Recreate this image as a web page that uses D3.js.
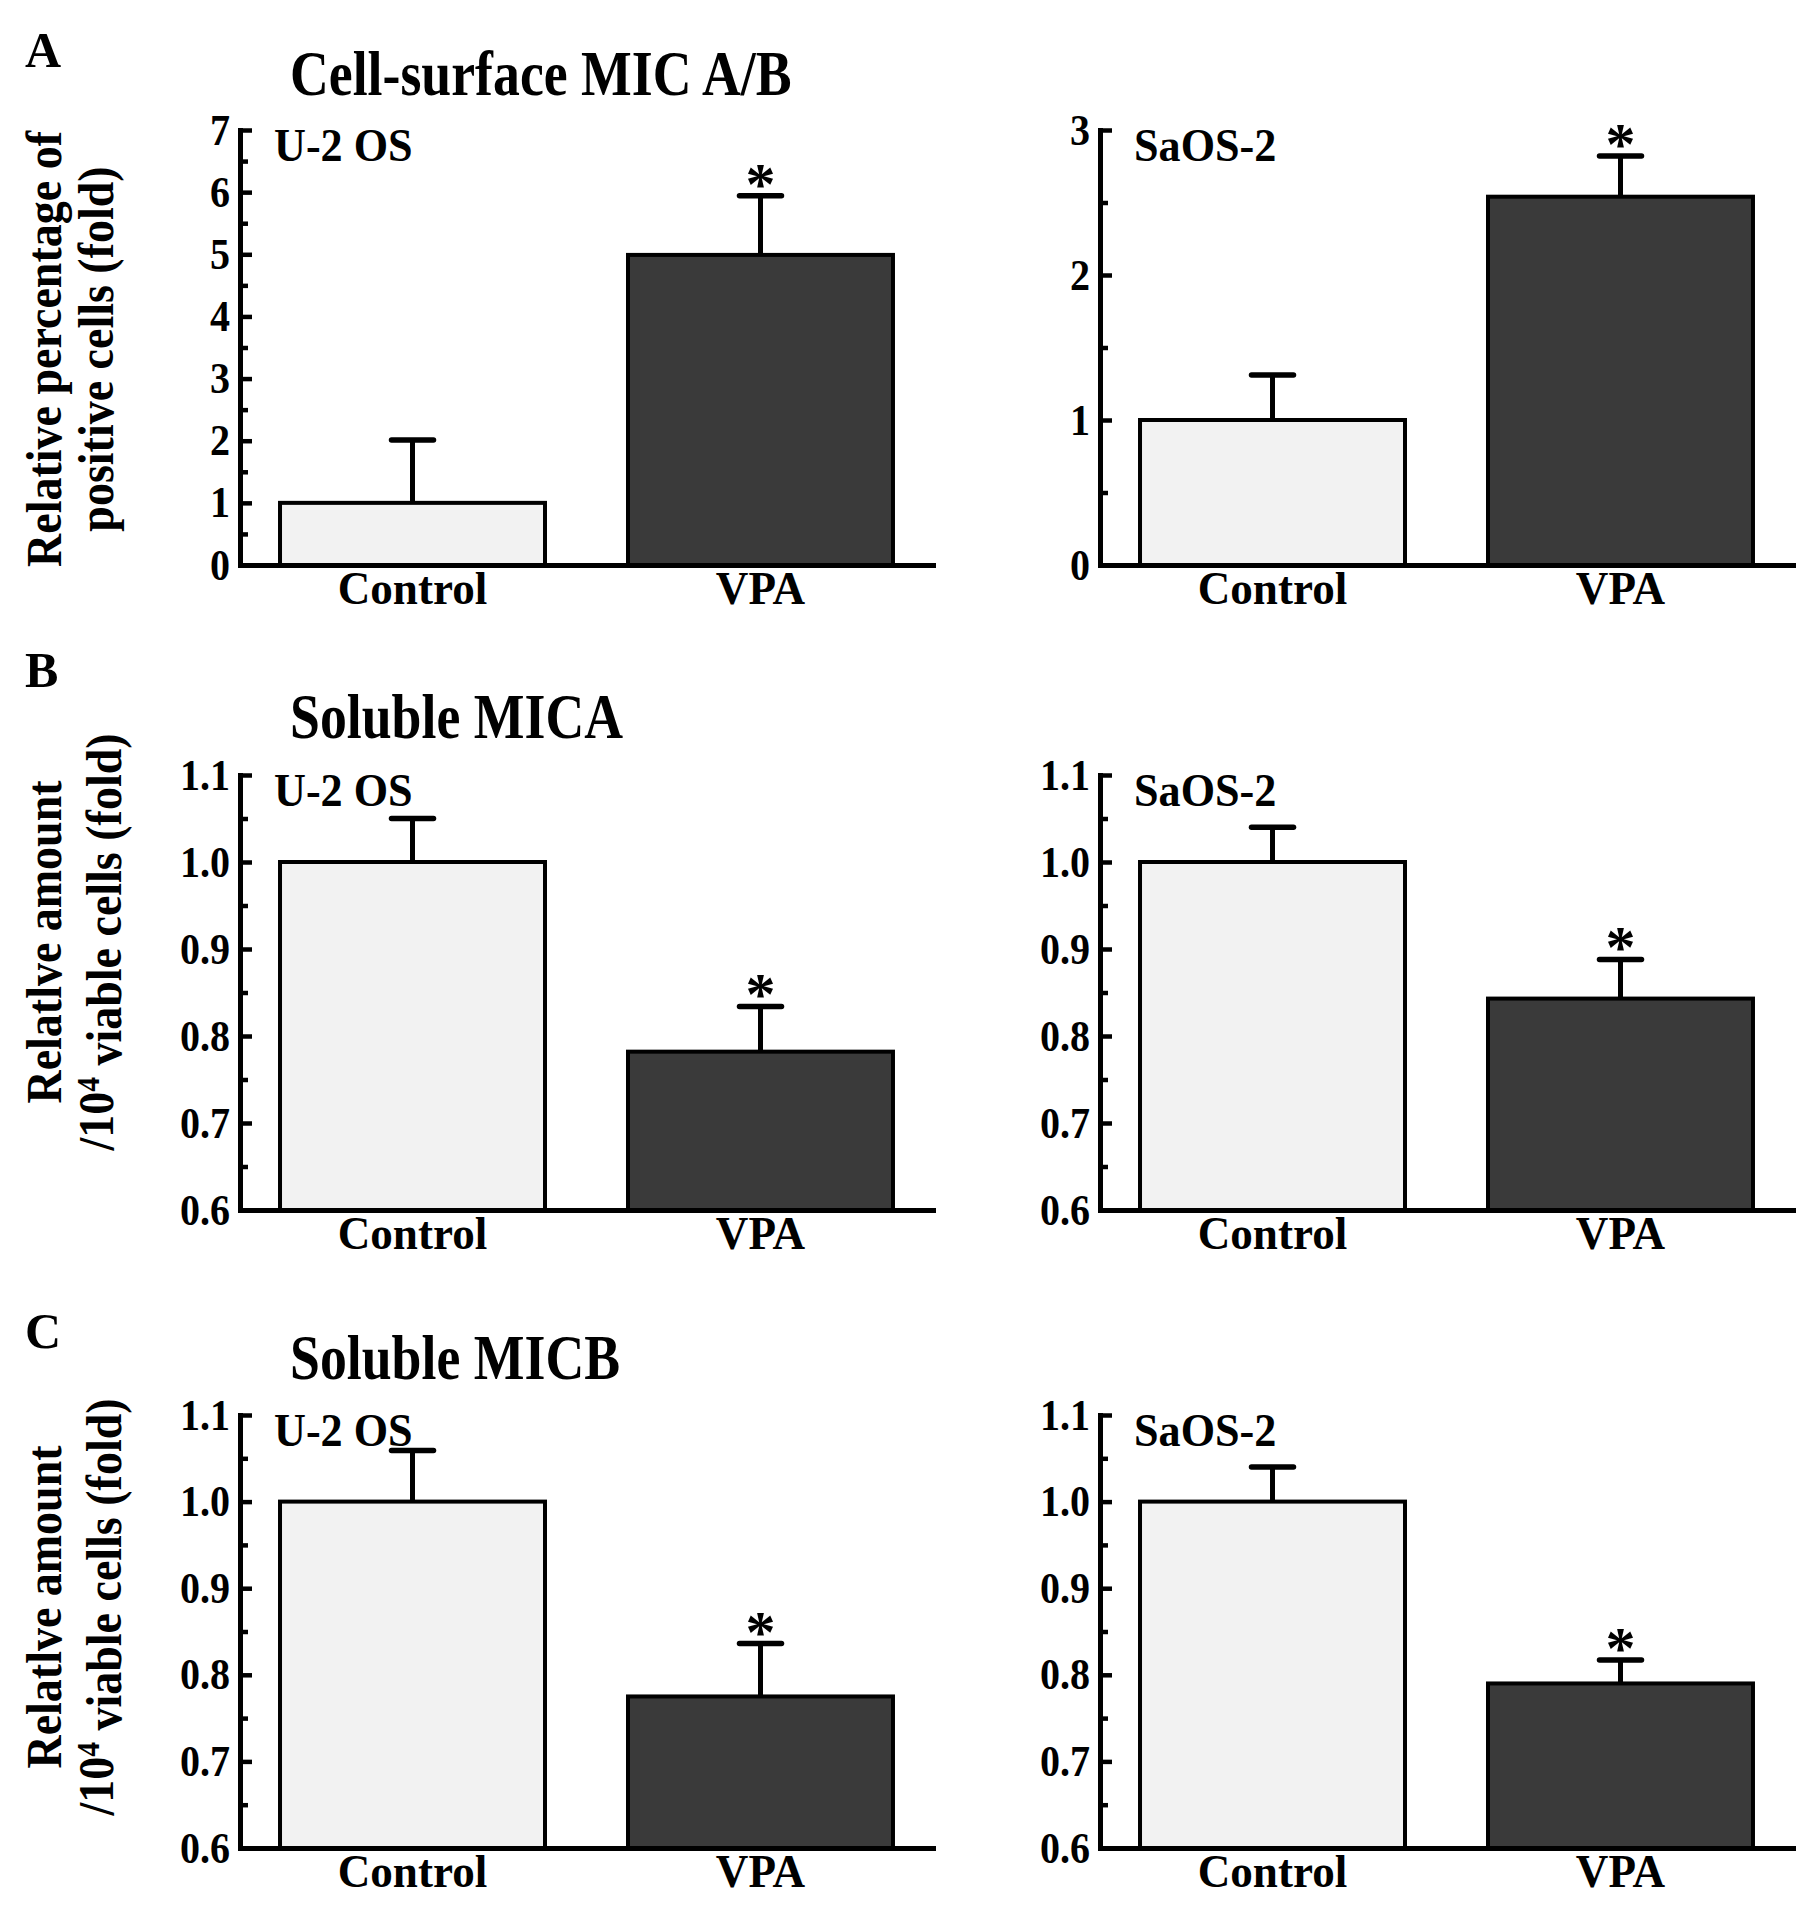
<!DOCTYPE html>
<html>
<head>
<meta charset="utf-8">
<script src="https://cdnjs.cloudflare.com/ajax/libs/d3/7.8.5/d3.min.js"></script>
<style>
body { margin: 0; background: #fff; }
text { font-family: "Liberation Serif", "Times New Roman", serif; font-weight: bold; fill: #000; }
</style>
</head>
<body>
<div id="chart"></div>
<script>
// figure with three rows of bar charts (surface MIC A/B, soluble MICA, soluble MICB)

var groups = ["Control", "VPA"];
var panelLetters = ["A", "B", "C"];
var panelTitles = ["Cell-surface MIC A/B", "Soluble MICA", "Soluble MICB"];
var cellLines = ["U-2 OS", "SaOS-2"];
var significant = [false, true];

// means and upper error per group
var surfU2os = [1.00, 4.99], surfU2osErr = [1.01, 0.95];
var surfSaos = [1.00, 2.54], surfSaosErr = [0.31, 0.28];
var micaU2os = [1.00, 0.782], micaU2osErr = [0.050, 0.052];
var micaSaos = [1.00, 0.843], micaSaosErr = [0.040, 0.045];
var micbU2os = [1.00, 0.775], micbU2osErr = [0.059, 0.061];
var micbSaos = [1.00, 0.790], micbSaosErr = [0.040, 0.027];

var ticksSurfU2os = [0, 1, 2, 3, 4, 5, 6, 7];
var ticksSurfSaos = [0, 1, 2, 3];
var ticksSoluble = [0.6, 0.7, 0.8, 0.9, 1.0, 1.1];

var yLabelLine1 = ["Relative percentage of", "Relatlve amount", "Relatlve amount"];
var yLabelLine2 = [["positive cells (fold)"], ["/10", "4", " viable cells (fold)"], ["/10", "4", " viable cells (fold)"]];

// layout
var width = 1819, height = 1925;
var colLeft = [240, 1100];
var rowTop = [130, 775, 1415],
    rowBottom = [565, 1210, 1848];
var plotW = 693;
var titleY = [95, 738, 1379],
    letterY = [67, 687, 1348],
    yLabelMid = [349, 942, 1607];

var fillColor = { "Control": "#f2f2f2", "VPA": "#3a3a3a" };

var svg = d3.select("#chart")
    .append("svg")
    .attr("width", width)
    .attr("height", height)
    .style("background", "#fff");

// the figure uses a narrow bold Times, so squeeze glyphs horizontally
function condensed(sel, x, y, sx, extra) {
    sel.attr("x", null).attr("y", null)
        .attr("transform", "translate(" + x + "," + y + ")" + (extra || "") + " scale(" + sx + ",1)");
    return sel;
}

var panels = [
    { row: 0, col: 0, means: surfU2os, errs: surfU2osErr, ticks: ticksSurfU2os, fmt: d3.format("d") },
    { row: 0, col: 1, means: surfSaos, errs: surfSaosErr, ticks: ticksSurfSaos, fmt: d3.format("d") },
    { row: 1, col: 0, means: micaU2os, errs: micaU2osErr, ticks: ticksSoluble, fmt: d3.format(".1f") },
    { row: 1, col: 1, means: micaSaos, errs: micaSaosErr, ticks: ticksSoluble, fmt: d3.format(".1f") },
    { row: 2, col: 0, means: micbU2os, errs: micbU2osErr, ticks: ticksSoluble, fmt: d3.format(".1f") },
    { row: 2, col: 1, means: micbSaos, errs: micbSaosErr, ticks: ticksSoluble, fmt: d3.format(".1f") }
];

function drawPanel(p) {
    var g = svg.append("g")
        .attr("transform", "translate(" + colLeft[p.col] + ",0)");

    var x = d3.scaleBand()
        .domain(groups)
        .range([0, plotW])
        .paddingInner(0.2385)
        .paddingOuter(0.115);
    var y = d3.scaleLinear()
        .domain(d3.extent(p.ticks))
        .range([rowBottom[p.row], rowTop[p.row]]);

    var rows = groups.map(function (gr, i) {
        return { group: gr, mean: p.means[i], err: p.errs[i], star: significant[i] };
    });

    // bars
    g.selectAll(".bar")
        .data(rows)
        .enter()
        .append("rect")
        .attr("class", "bar")
        .attr("x", function (d) { return x(d.group); })
        .attr("width", x.bandwidth())
        .attr("y", function (d) { return y(d.mean); })
        .attr("height", function (d) { return y.range()[0] - y(d.mean); })
        .attr("fill", function (d) { return fillColor[d.group]; })
        .attr("stroke", "#000")
        .attr("stroke-width", 4);

    // error bars (upper only)
    var cx = function (d) { return x(d.group) + x.bandwidth() / 2; };
    g.selectAll(".errLine")
        .data(rows)
        .enter()
        .append("line")
        .attr("x1", cx).attr("x2", cx)
        .attr("y1", function (d) { return y(d.mean); })
        .attr("y2", function (d) { return y(d.mean + d.err); })
        .attr("stroke", "#000")
        .attr("stroke-width", 5);
    g.selectAll(".errCap")
        .data(rows)
        .enter()
        .append("line")
        .attr("x1", function (d) { return cx(d) - 21; })
        .attr("x2", function (d) { return cx(d) + 21; })
        .attr("y1", function (d) { return y(d.mean + d.err); })
        .attr("y2", function (d) { return y(d.mean + d.err); })
        .attr("stroke", "#000")
        .attr("stroke-width", 5.5)
        .attr("stroke-linecap", "round");

    g.selectAll(".star")
        .data(rows.filter(function (d) { return d.star; }))
        .enter()
        .append("text")
        .attr("x", cx)
        .attr("y", function (d) { return y(d.mean + d.err) + 8; })
        .attr("text-anchor", "middle")
        .style("font-size", "60px")
        .text("*");

    // y axis, ticks pointing inward
    var yAxis = g.append("g")
        .call(d3.axisLeft(y)
            .tickValues(p.ticks)
            .tickFormat(p.fmt)
            .tickSize(-12)
            .tickSizeOuter(0)
            .tickPadding(10));
    var minors = d3.pairs(p.ticks).map(function (t) { return (t[0] + t[1]) / 2; });
    var yMinor = g.append("g")
        .call(d3.axisLeft(y)
            .tickValues(minors)
            .tickFormat("")
            .tickSize(-8)
            .tickSizeOuter(0));
    yMinor.select(".domain").remove();

    var xAxis = g.append("g")
        .attr("transform", "translate(0," + y.range()[0] + ")")
        .call(d3.axisBottom(x).tickSize(0).tickSizeOuter(0));

    [yAxis, yMinor, xAxis].forEach(function (ax) {
        ax.attr("font-family", null).attr("font-size", null);
        ax.selectAll("line").attr("stroke", "#000").attr("stroke-width", 4.5);
        ax.selectAll(".domain").attr("stroke", "#000").attr("stroke-width", 5).attr("stroke-linecap", "square");
    });
    yAxis.selectAll("text")
        .style("font-size", "44px")
        .each(function () { condensed(d3.select(this), -10, 0, 0.91); });
    xAxis.selectAll("text")
        .attr("dy", null)
        .style("font-size", "47px")
        .each(function () { condensed(d3.select(this), 0, 39, 0.96); });

    // cell line label
    condensed(g.append("text"), 34, rowTop[p.row] + 31, 0.96)
        .style("font-size", "46px")
        .text(cellLines[p.col]);
}

panels.forEach(drawPanel);

// row letters, titles, y-axis titles
panelLetters.forEach(function (letter, r) {
    svg.append("text")
        .attr("x", 25)
        .attr("y", letterY[r])
        .style("font-size", "50px")
        .text(letter);

    condensed(svg.append("text"), 290, titleY[r], 0.84)
        .style("font-size", "64px")
        .text(panelTitles[r]);

    condensed(svg.append("text"), 61, yLabelMid[r], 0.92, " rotate(-90)")
        .attr("text-anchor", "middle")
        .style("font-size", "50px")
        .text(yLabelLine1[r]);

    var t2 = condensed(svg.append("text"), 113, yLabelMid[r], 0.92, " rotate(-90)")
        .attr("text-anchor", "middle")
        .style("font-size", "50px");
    var parts = yLabelLine2[r];
    if (parts.length === 1) {
        t2.text(parts[0]);
    } else {
        t2.append("tspan").text(parts[0]);
        t2.append("tspan").attr("dy", "-0.45em").style("font-size", "32px").text(parts[1]);
        t2.append("tspan").attr("dy", "0.45em").text(parts[2]);
    }
});
</script>
</body>
</html>
